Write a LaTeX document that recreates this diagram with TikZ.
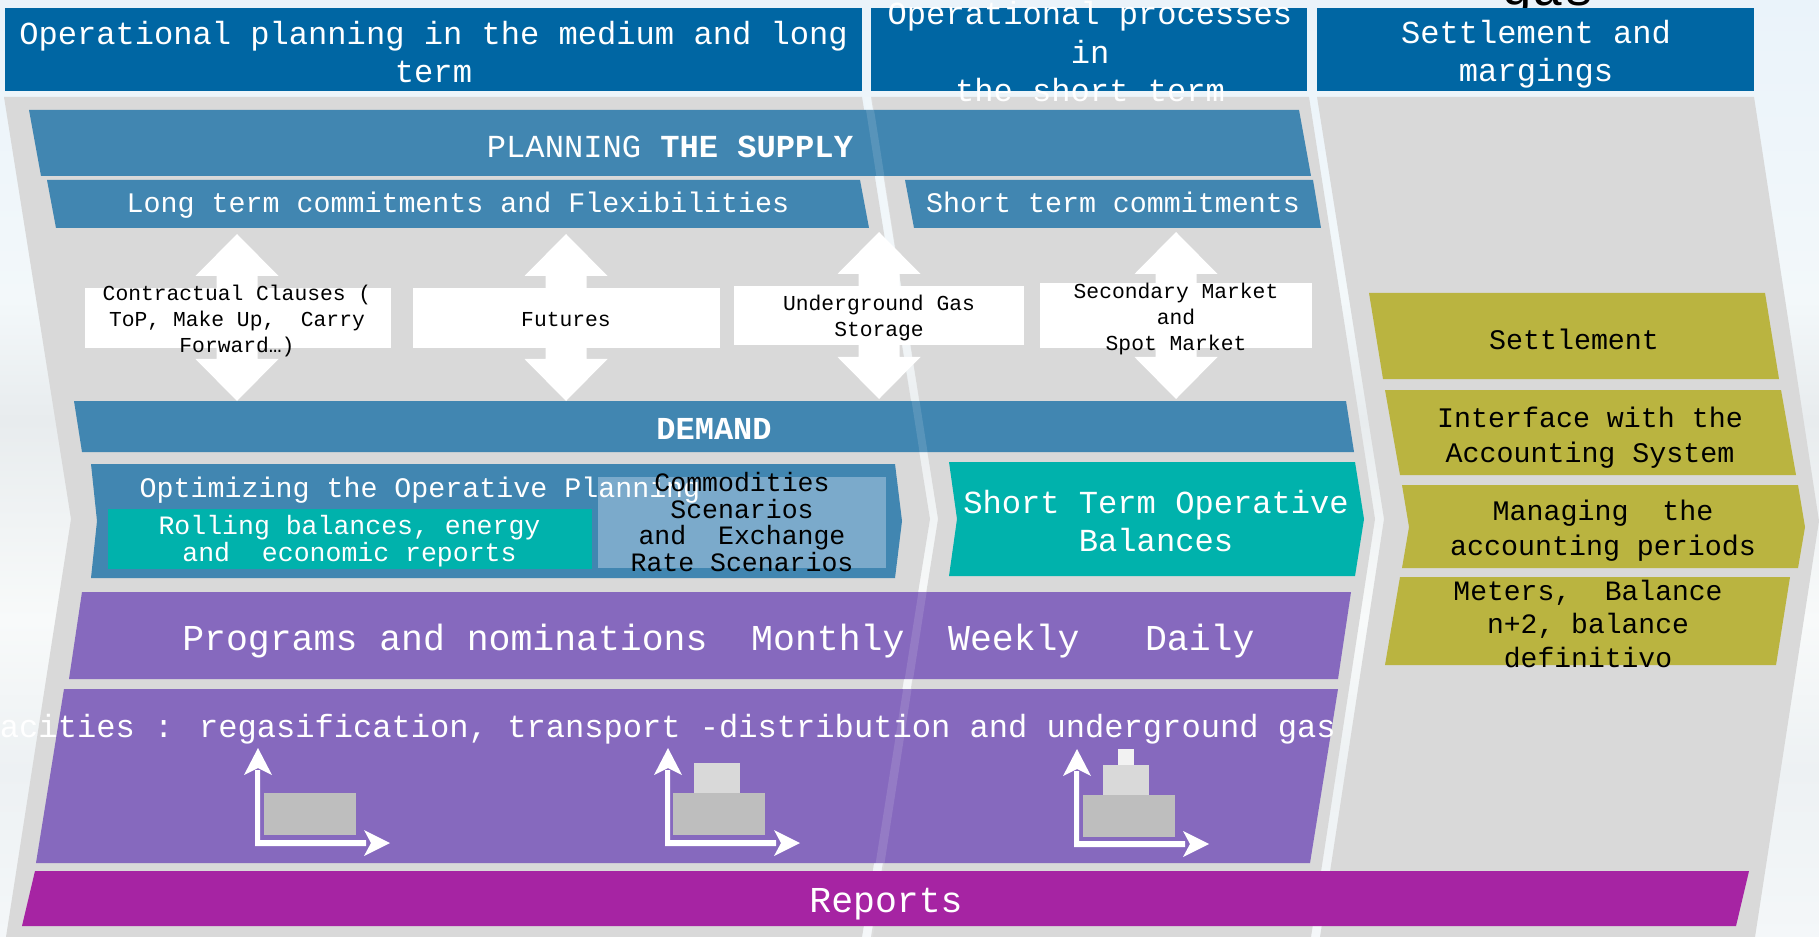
\documentclass[tikz,border=0pt]{standalone}
\usepackage{fontspec}
\setmainfont{Liberation Mono}
\definecolor{hdr}{HTML}{0066A3}
\definecolor{bar}{HTML}{4186B1}
\definecolor{teal}{HTML}{00B2AC}
\definecolor{pur}{HTML}{8669BE}
\definecolor{mag}{HTML}{A624A3}
\definecolor{oli}{HTML}{BAB440}
\definecolor{lblue}{HTML}{7BAACB}
\definecolor{pan}{HTML}{D9D9D9}
\definecolor{gA}{HTML}{BEBEBE}
\definecolor{gB}{HTML}{D9D9D9}
\definecolor{gC}{HTML}{F2F2F2}
\definecolor{skyA}{HTML}{EAF3FA}
\definecolor{skyB}{HTML}{F3F8FA}
\definecolor{skyC}{HTML}{E8ECEE}
\definecolor{skyD}{HTML}{F8FAFA}
\definecolor{skyE}{HTML}{EDF1F3}
\definecolor{skyF}{HTML}{F4F7F9}
\tikzset{
  txt/.style={inner sep=0pt,align=center,anchor=center},
  wh/.style={txt,text=white},
  bk/.style={txt,text=black},
  fA/.style={font=\fontsize{9.13pt}{10.95pt}\selectfont},
  fB/.style={font=\fontsize{8.05pt}{9.9pt}\selectfont},
  fC/.style={font=\fontsize{7.54pt}{7.65pt}\selectfont},
  fD/.style={font=\fontsize{6.06pt}{7.4pt}\selectfont},
  fE/.style={font=\fontsize{10.37pt}{12pt}\selectfont},
}
\newcommand{\dblarrow}[2]{% centre x, top tip y (bottom tip = top+167)
  \fill[white] (#1,#2) -- (#1+41.5,#2+42) -- (#1+20.5,#2+42) -- (#1+20.5,#2+125) -- (#1+41.5,#2+125)
    -- (#1,#2+167) -- (#1-41.5,#2+125) -- (#1-20.5,#2+125) -- (#1-20.5,#2+42) -- (#1-41.5,#2+42) -- cycle;}
\newcommand{\axes}[2]{% origin x, y of the corner
  \fill[white] (#1-3,#2-73) -- (#1+2,#2-73) -- (#1+2,#2-3) -- (#1+108,#2-3) -- (#1+108,#2+3) -- (#1-3,#2+3) -- cycle;
  \fill[white] (#1,#2-95) -- (#1+14,#2-68) -- (#1,#2-75) -- (#1-14,#2-68) -- cycle;
  \fill[white] (#1+132,#2) -- (#1+106,#2+13) -- (#1+113,#2) -- (#1+106,#2-13) -- cycle;}
\begin{document}
\begin{tikzpicture}[x=0.01cm,y=-0.01cm]
\useasboundingbox (0,0) rectangle (1819,937);
% backdrop
\shade[top color=skyA,bottom color=skyB] (0,0) rectangle (1819,300);
\shade[top color=skyB,bottom color=skyC] (0,300) rectangle (1819,420);
\shade[top color=skyC,bottom color=skyD] (0,420) rectangle (1819,620);
\shade[top color=skyD,bottom color=skyE] (0,620) rectangle (1819,770);
\shade[top color=skyE,bottom color=skyF] (0,770) rectangle (1819,937);
% clipped title behind the header
\node[bk,anchor=base,font=\fontsize{14.8pt}{16pt}\selectfont] (gasword) at (1548,6) {gas};
% headers
\fill[hdr] (5,8) rectangle (862,91);
\fill[hdr] (871,8) rectangle (1307,91);
\fill[hdr] (1317,8) rectangle (1754,91);
% panels
\fill[pan] (4,97) -- (862,97) -- (930,519) -- (862,937) -- (6,937) -- (71,519) -- cycle;
\fill[pan] (871,97) -- (1309,97) -- (1375,519) -- (1311,937) -- (871,937) -- (938,519) -- cycle;
\fill[pan] (1317,97) -- (1754,97) -- (1819,521) -- (1755,937) -- (1320,937) -- (1384,519) -- cycle;
% bars
\fill[bar] (29,110) -- (1299,110) -- (1311,176) -- (41,176) -- cycle;
\fill[bar] (47,180) -- (860,180) -- (869,228) -- (56,228) -- cycle;
\fill[bar] (905,180) -- (1313,180) -- (1321,228) -- (914,228) -- cycle;
\fill[bar] (74,401) -- (1346,401) -- (1354,452) -- (82,452) -- cycle;
\fill[bar] (91,464) -- (895,464) -- (902,521) -- (895,578) -- (91,578) -- (97,521) -- cycle;
\fill[teal] (949,462) -- (1355,462) -- (1364,519) -- (1355,576) -- (949,576) -- (957,519) -- cycle;
\fill[pur] (82,592) -- (1351,592) -- (1338,679) -- (69,679) -- cycle;
\fill[pur] (64,689) -- (1338,689) -- (1310,863) -- (36,863) -- cycle;
% faint stripe where it runs over the bars
\fill[white,opacity=.12] (864,97) -- (872,97) -- (938,519) -- (873,937) -- (864,937) -- (930,519) -- cycle;
\fill[mag] (35,871) -- (1749,871) -- (1736,926) -- (22,926) -- cycle;
% double arrows
\dblarrow{237}{234}
\dblarrow{566}{234}
\dblarrow{879}{232}
\dblarrow{1176}{232}
% white boxes
\fill[white] (85,288) rectangle (391,348);
\fill[white] (413,288) rectangle (720,348);
\fill[white] (734,286) rectangle (1024,345);
\fill[white] (1040,283) rectangle (1312,348);
% inner boxes
\fill[teal] (108,509) rectangle (592,569);
\fill[lblue] (598,477) rectangle (886,568);
% olive
\fill[oli] (1369,293) -- (1765,293) -- (1779,379) -- (1383,379) -- cycle;
\fill[oli] (1385,390) -- (1781,390) -- (1796,475) -- (1400,475) -- cycle;
\fill[oli] (1402,485) -- (1798,485) -- (1805,527) -- (1798,568) -- (1402,568) -- (1409,527) -- cycle;
\fill[oli] (1400,577) -- (1790,577) -- (1776,665) -- (1385,665) -- cycle;
% icons
\fill[gA] (264,793) rectangle (356,835);
\axes{258}{843}
\fill[gB] (694,763) rectangle (740,793);
\fill[gA] (673,793) rectangle (765,835);
\axes{668}{843}
\fill[gC] (1118,749) rectangle (1134,765);
\fill[gB] (1103,765) rectangle (1149,795);
\fill[gA] (1083,795) rectangle (1175,837);
\axes{1077}{844}
% texts
\node[wh,fA] (h1) at (433.5,52) {Operational planning in the medium and long\\term};
\node[wh,fA] (h2) at (1090,52) {Operational processes\\in\\the short term};
\node[wh,fA] (h3) at (1536,54) {Settlement and\\margings};
\node[wh,fA] (plan) at (670,147) {PLANNING \textbf{THE SUPPLY}};
\node[wh,fB] (lt) at (458,205.5) {Long term commitments and Flexibilities};
\node[wh,fB] (st) at (1113,202) {Short term commitments};
\node[bk,fD] (cc) at (237,321) {Contractual Clauses (\\ToP, Make Up,~~Carry\\Forward…)};
\node[bk,fD] (fu) at (566,320) {Futures};
\node[bk,fD] (ug) at (879,318) {Underground Gas\\Storage};
\node[bk,fD] (sm) at (1176,319) {Secondary Market\\and\\Spot Market};
\node[wh,fA,font=\bfseries\fontsize{9.1pt}{11pt}\selectfont] (dem) at (714,429) {DEMAND};
\node[wh,fB] (op) at (420,490) {Optimizing the Operative Planning};
\node[wh,fC] (rb) at (349.5,541.5) {Rolling balances, energy\\and~~economic reports};
\node[bk,fC] (cs) at (742,522) {Commodities\\Scenarios\\and~~Exchange\\Rate Scenarios};
\node[wh,fA] (sb) at (1156,521) {Short Term Operative\\Balances};
\node[wh,fE] (pn) at (718.5,641) {Programs and nominations~~Monthly~~Weekly~~~Daily};
\node[wh,fA] (cap) at (639,729) {Capacities : regasification, transport -distribution and underground gas};
\node[wh,fE] (rep) at (886,904) {Reports};
\node[bk,fB] (se) at (1574,339) {Settlement};
\node[bk,fB] (ia) at (1590,438) {Interface with the\\Accounting System};
\node[bk,fB] (ma) at (1603,530.5) {Managing~~the\\accounting periods};
\node[bk,fB,font=\fontsize{7.97pt}{9.4pt}\selectfont] (me) at (1588,624) {Meters,~~Balance\\n+2, balance\\definitivo};
\end{tikzpicture}
\end{document}
